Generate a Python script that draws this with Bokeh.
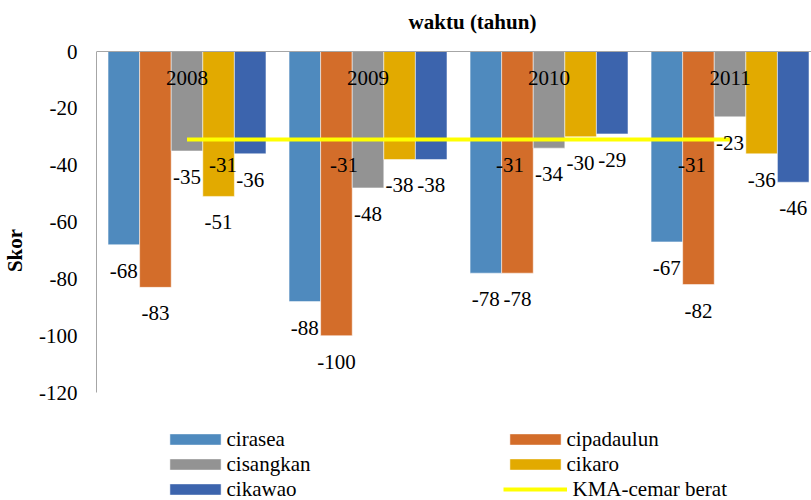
from bokeh.plotting import figure
from bokeh.models import Range1d, FixedTicker, Legend, LegendItem, ColumnDataSource, Label, Span
from bokeh.core.properties import value
from bokeh.embed import file_html
from bokeh.resources import INLINE

# ---- data ----
years = ["2008", "2009", "2010", "2011"]
series = ["cirasea", "cipadaulun", "cisangkan", "cikaro", "cikawao"]
cirasea = [-68, -88, -78, -67]
cipadaulun = [-83, -100, -78, -82]
cisangkan = [-35, -48, -34, -23]
cikaro = [-51, -38, -30, -36]
cikawao = [-36, -38, -29, -46]
kma = [-31, -31, -31, -31]
kma_name = "KMA-cemar berat"
y_ticks = [0, -20, -40, -60, -80, -100, -120]
title_text = "waktu (tahun)"
y_title = "Skor"

values = [cirasea, cipadaulun, cisangkan, cikaro, cikawao]
colors = ["#4F8ABE", "#D36D2A", "#939393", "#E2AA00", "#3C64AD"]

FONT = "Liberation Serif"
FS = "21px"

# ---- layout/style ----
bw = 0.1745
kma_label_dx = [36, -24, -39, -38]

x_rng = Range1d(0, 3.95)
# frame spans the whole canvas height (title above, legend below);
# the value axis is bounded to [-120, 0]
p = figure(width=811, height=500, output_backend="svg", toolbar_location=None,
           x_range=x_rng, y_range=Range1d(-158, 17.95),
           x_axis_location=None,
           min_border_left=96, min_border_right=0, min_border_top=0, min_border_bottom=0)
p.outline_line_color = None
p.grid.visible = False
p.background_fill_color = "white"
p.border_fill_color = "white"

# category axis line at zero (top of the bars)
p.add_layout(Span(location=0, dimension="width", line_color="#A6A6A6", line_width=1))

p.yaxis.ticker = FixedTicker(ticks=y_ticks)
p.yaxis.bounds = (min(y_ticks), max(y_ticks))
p.yaxis.major_label_overrides = {t: str(t) for t in y_ticks}
p.yaxis.major_tick_out = 0
p.yaxis.major_tick_in = 0
p.yaxis.minor_tick_out = 0
p.yaxis.minor_tick_in = 0
p.yaxis.axis_line_color = "#A6A6A6"
p.yaxis.major_label_standoff = 19
p.yaxis.major_label_text_font = FONT
p.yaxis.major_label_text_font_size = FS
p.yaxis.major_label_text_color = "black"
p.yaxis.axis_label = y_title
p.yaxis.axis_label_text_font = FONT
p.yaxis.axis_label_text_font_size = FS
p.yaxis.axis_label_text_font_style = "bold"
p.yaxis.axis_label_text_color = "black"
p.yaxis.axis_label_standoff = 9

bar_renderers = []
for j, (name, vals, col) in enumerate(zip(series, values, colors)):
    xs = [i + 0.5 + (j - 2) * bw for i in range(len(years))]
    src = ColumnDataSource(dict(x=xs, v=vals, lbl=[str(v) for v in vals]))
    r = p.vbar(x="x", top=0, bottom="v", width=bw, source=src,
               fill_color=col, line_color="white", line_alpha=0.5, line_width=1)
    bar_renderers.append(r)

# KMA line
kx = [i + 0.5 for i in range(len(years))]
kline = p.line(x=kx, y=kma, line_color="#FFFF00", line_width=4)

# bar data labels
for j, (name, vals) in enumerate(zip(series, values)):
    xs = [i + 0.5 + (j - 2) * bw for i in range(len(years))]
    src = ColumnDataSource(dict(x=xs, v=vals, lbl=[str(v) for v in vals]))
    p.text(x="x", y="v", text="lbl", source=src, y_offset=26,
           text_align="center", text_baseline="middle",
           text_font=value(FONT), text_font_size=FS, text_color="black")

# KMA labels
ksrc = ColumnDataSource(dict(x=kx, v=kma, lbl=[str(v) for v in kma], dx=kma_label_dx))
p.text(x="x", y="v", text="lbl", source=ksrc, x_offset="dx", y_offset=25,
       text_align="center", text_baseline="middle",
       text_font=value(FONT), text_font_size=FS, text_color="black")

# year labels under the zero axis
p.text(x=kx, y=[0] * len(years), text=years, y_offset=26,
       text_align="center", text_baseline="middle",
       text_font=value(FONT), text_font_size=FS, text_color="black")

# title (screen units relative to the frame, y upward)
p.add_layout(Label(x=376, y=479, x_units="screen", y_units="screen", text=title_text,
                   text_align="center", text_baseline="middle",
                   text_font=FONT, text_font_size=FS, text_font_style="bold",
                   text_color="black"))

# legend: swatches from the renderers
items = [LegendItem(label="", renderers=[r]) for r in bar_renderers]
items.append(LegendItem(label="", renderers=[kline]))
legend = Legend(items=items, orientation="horizontal", ncols=2,
                glyph_width=64, glyph_height=14, label_standoff=0,
                label_width=276, label_height=25, spacing=0, padding=0, margin=0,
                border_line_alpha=0, background_fill_alpha=0,
                label_text_font_size=FS, location=(67, -1))
p.add_layout(legend)

# legend names, anchored at the axis' lower-left corner and offset in pixels
legend_names = series + [kma_name]
col_dx = [130, 470]
row_dy = [46.5, 71.5, 96.5]
ldx, ldy = [], []
for idx, name in enumerate(legend_names):
    r, c = divmod(idx, 2)
    ldx.append(col_dx[c] + (6 if name == kma_name else 0))
    ldy.append(row_dy[r])
lsrc = ColumnDataSource(dict(x=[x_rng.start] * len(legend_names),
                             y=[min(y_ticks)] * len(legend_names),
                             t=legend_names, dx=ldx, dy=ldy))
p.text(x="x", y="y", text="t", source=lsrc, x_offset="dx", y_offset="dy",
       text_align="left", text_baseline="middle",
       text_font=value(FONT), text_font_size=FS, text_color="black")

open("out.html", "w").write(file_html(p, INLINE))
